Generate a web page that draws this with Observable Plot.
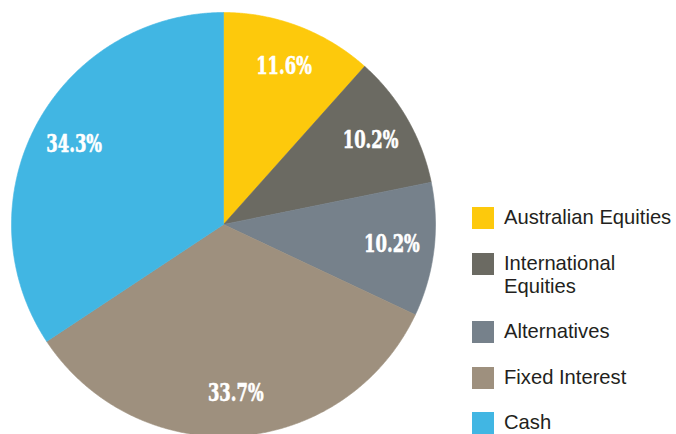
<!DOCTYPE html>
<html>
<head>
<meta charset="utf-8">
<script src="https://cdn.jsdelivr.net/npm/d3@7"></script>
<script src="https://cdn.jsdelivr.net/npm/@observablehq/plot@0.6"></script>
<style>
  html, body { margin: 0; padding: 0; background: #fff; }
  #wrap { position: relative; width: 676px; height: 434px; overflow: hidden; }
  #wrap svg { position: absolute; left: 0; top: 0; }
  #legend { position: absolute; left: 472px; top: 206px; font-family: "Liberation Sans", Arial, sans-serif; font-size: 20.2px; color: #231f20; }
  .item { display: flex; align-items: flex-start; margin-bottom: 22.5px; line-height: 23px; }
  .sw { width: 22px; height: 22px; flex: none; margin-right: 10px; margin-top: 1px; }
  .lab { width: 172px; }
</style>
</head>
<body>
<div id="wrap"><div id="legend"></div></div>
<script>
const categories = ["Australian Equities", "International Equities", "Alternatives", "Fixed Interest", "Cash"];
const shares = [11.6, 10.2, 10.2, 33.7, 34.3];
const colors = ["#FDC90C", "#6B6A62", "#76818B", "#9E907E", "#41B6E3"];

const rows = categories.map((c, i) => ({category: c, share: shares[i]}));
const arcs = d3.pie().sort(null).value(d => d.share)(rows);

// polygon outline for each slice (angle 0 at 12 o'clock, clockwise)
const poly = [];
for (const a of arcs) {
  const c = a.data.category;
  poly.push({category: c, x: 0, y: 0});
  const n = Math.max(2, Math.ceil((a.endAngle - a.startAngle) / 0.005));
  for (let k = 0; k <= n; k++) {
    const t = a.startAngle + (a.endAngle - a.startAngle) * k / n;
    poly.push({category: c, x: Math.sin(t), y: Math.cos(t)});
  }
  poly.push({category: c, x: 0, y: 0});
}
const labels = arcs.map(a => {
  const m = (a.startAngle + a.endAngle) / 2;
  return {x: 0.8 * Math.sin(m), y: 0.8 * Math.cos(m), text: a.data.share.toFixed(1) + "%"};
});

const W = 676, H = 434, cx = 223, cy = 224, R = 212;
const chart = Plot.plot({
  width: W, height: H,
  marginTop: 0, marginRight: 0, marginBottom: 0, marginLeft: 0,
  x: {domain: [-cx / R, (W - cx) / R], axis: null},
  y: {domain: [-(H - cy) / R, cy / R], axis: null},
  color: {domain: categories, range: colors},
  marks: [
    Plot.line(poly, {x: "x", y: "y", z: "category", fill: "category", stroke: "category", strokeWidth: 0.6, curve: "linear"}),
    Plot.text(labels, {x: "x", y: "y", text: "text", fill: "white", stroke: "white", strokeWidth: 0.6, fontSize: 24, fontWeight: "bold",
      fontFamily: "'DejaVu Serif Condensed', 'DejaVu Serif', serif"})
  ]
});
document.getElementById("wrap").insertBefore(chart, document.getElementById("legend"));
chart.querySelectorAll("text").forEach(t => {
  t.style.fontStretch = "condensed";
  const len = t.getComputedTextLength();
  if (len > 0) {
    t.setAttribute("textLength", (len * 0.76).toFixed(1));
    t.setAttribute("lengthAdjust", "spacingAndGlyphs");
  }
});

const legend = document.getElementById("legend");
categories.forEach((c, i) => {
  const it = document.createElement("div");
  it.className = "item";
  const sw = document.createElement("div");
  sw.className = "sw";
  sw.style.background = colors[i];
  const lab = document.createElement("div");
  lab.className = "lab";
  lab.textContent = c;
  it.appendChild(sw); it.appendChild(lab);
  legend.appendChild(it);
});
</script>
</body>
</html>
